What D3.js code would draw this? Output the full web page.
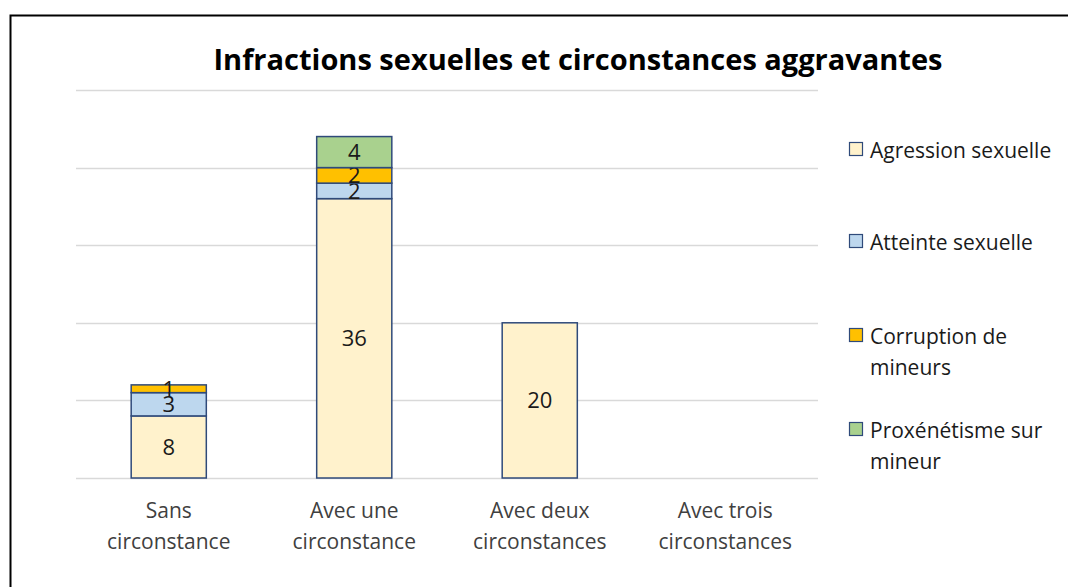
<!DOCTYPE html>
<html>
<head>
<meta charset="utf-8">
<script src="https://cdn.jsdelivr.net/npm/d3@7"></script>
<style>
  body { margin: 0; background: #fff; }
  text { font-family: "Open Sans", sans-serif; }
</style>
</head>
<body>
<div class="chart"></div>
<script>
const categories = [
    ['Sans', 'circonstance'],
    ['Avec une', 'circonstance'],
    ['Avec deux', 'circonstances'],
    ['Avec trois', 'circonstances']
];
const seriesNames = ['Agression sexuelle', 'Atteinte sexuelle', 'Corruption de mineurs', 'Proxénétisme sur mineur'];
const agression = [8, 36, 20, 0];
const atteinte = [3, 2, 0, 0];
const corruption = [1, 2, 0, 0];
const proxenetisme = [0, 4, 0, 0];
const yTicks = [0, 10, 20, 30, 40, 50];

const colors = ['#FFF2CC', '#BDD7EE', '#FFC000', '#A9D18E'];
const legendLines = [['Agression sexuelle'], ['Atteinte sexuelle'], ['Corruption de', 'mineurs'], ['Proxénétisme sur', 'mineur']];

const W = 1068, H = 587;
const svg = d3.select('.chart').append('svg')
    .attr('width', W)
    .attr('height', H);

// frame
svg.append('rect')
    .attr('x', 10.5).attr('y', 15.5)
    .attr('width', W + 20).attr('height', H + 20)
    .attr('fill', 'none')
    .attr('stroke', '#000')
    .attr('stroke-width', 2);

svg.append('text')
    .attr('x', 578).attr('y', 70)
    .attr('text-anchor', 'middle')
    .attr('font-size', 29)
    .attr('font-weight', 'bold')
    .attr('fill', '#000')
    .text('Infractions sexuelles et circonstances aggravantes');

const table = categories.map((c, i) => ({
    idx: i,
    s0: agression[i], s1: atteinte[i], s2: corruption[i], s3: proxenetisme[i]
}));

const x = d3.scaleBand().domain(d3.range(categories.length)).range([76, 818]).paddingInner(0.595).paddingOuter(0.2975);
const y = d3.scaleLinear().domain([0, 50]).range([478, 90]);

svg.append('g')
    .selectAll('line')
    .data(yTicks)
    .enter()
    .append('line')
    .attr('x1', 76).attr('x2', 818)
    .attr('y1', d => Math.round(y(d)) + 0.5)
    .attr('y2', d => Math.round(y(d)) + 0.5)
    .attr('stroke', '#D9D9D9')
    .attr('stroke-width', 1.5);

const stack = d3.stack().keys(['s0', 's1', 's2', 's3'])(table);

const layers = svg.selectAll('.layer')
    .data(stack)
    .enter()
    .append('g')
    .attr('class', 'layer')
    .attr('fill', (d, i) => colors[i]);

layers.selectAll('rect')
    .data(d => d.filter(p => p[1] - p[0] > 0))
    .enter()
    .append('rect')
    .attr('x', d => x(d.data.idx))
    .attr('width', x.bandwidth())
    .attr('y', d => y(d[1]))
    .attr('height', d => y(d[0]) - y(d[1]))
    .attr('stroke', '#2F4A7A')
    .attr('stroke-width', 1.5);

layers.selectAll('text')
    .data(d => d.filter(p => p[1] - p[0] > 0))
    .enter()
    .append('text')
    .attr('x', d => x(d.data.idx) + x.bandwidth() / 2)
    .attr('y', d => (y(d[0]) + y(d[1])) / 2 + 8)
    .attr('text-anchor', 'middle')
    .attr('font-size', 22)
    .attr('fill', '#1a1a1a')
    .text(d => d[1] - d[0]);

// category labels
const xl = svg.append('g').selectAll('text')
    .data(categories)
    .enter()
    .append('text')
    .attr('text-anchor', 'middle')
    .attr('font-size', 21)
    .attr('fill', '#404040')
    .attr('transform', (d, i) => `translate(${x(i) + x.bandwidth() / 2},518)`);
xl.selectAll('tspan')
    .data(d => d)
    .enter()
    .append('tspan')
    .attr('x', 0)
    .attr('dy', (d, i) => i ? 31 : 0)
    .text(d => d);

// legend
const legendY = [150, 242, 336, 430];
const lg = svg.append('g').selectAll('g')
    .data(seriesNames)
    .enter()
    .append('g')
    .attr('transform', (d, i) => `translate(849,${legendY[i]})`);
lg.append('rect')
    .attr('x', 0.5).attr('y', -7.5)
    .attr('width', 13).attr('height', 13)
    .attr('fill', (d, i) => colors[i])
    .attr('stroke', '#2F4A7A')
    .attr('stroke-width', 1.2);
const lt = lg.append('text')
    .attr('x', 21).attr('y', 8)
    .attr('font-size', 21)
    .attr('fill', '#1a1a1a');
lt.selectAll('tspan')
    .data((d, i) => legendLines[i])
    .enter()
    .append('tspan')
    .attr('x', 21)
    .attr('dy', (d, i) => i ? 31 : 0)
    .text(d => d);
</script>
</body>
</html>
